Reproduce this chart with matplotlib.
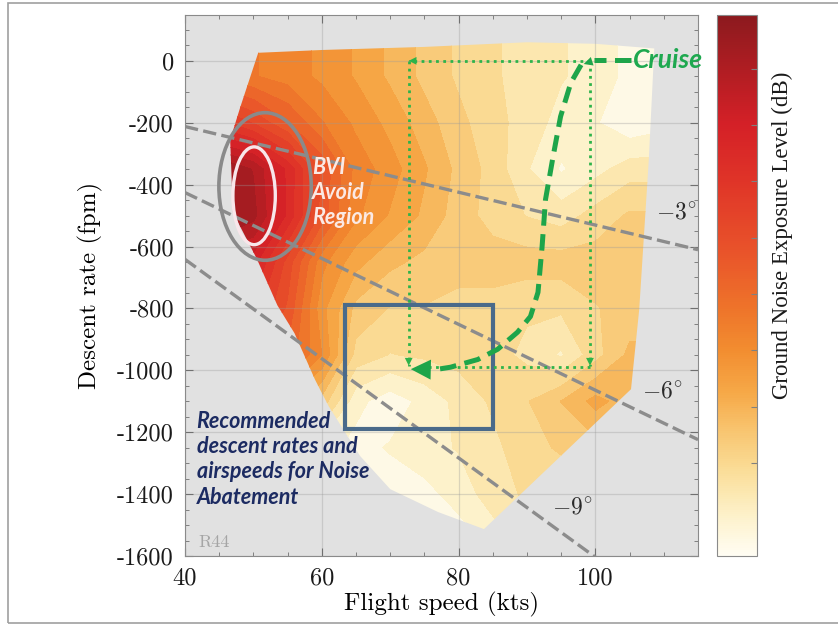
import numpy as np
import matplotlib.pyplot as plt
from matplotlib.colors import LinearSegmentedColormap, Normalize
from matplotlib.cm import ScalarMappable
from matplotlib.patches import Polygon, Ellipse, Rectangle

plt.rcParams['font.family'] = 'cmr10'
plt.rcParams['mathtext.fontset'] = 'cm'
plt.rcParams['axes.unicode_minus'] = False

# noise map (dB), rows = descent rate, cols = flight speed
speeds = [46, 50, 55, 60, 65, 70, 75, 80, 85, 90, 95, 100, 105, 110]
rates = [100, -50, -200, -350, -500, -650, -800, -950, -1100, -1250, -1400, -1550]
noise_db = [
    [85.5, 85.0, 84.5, 83.8, 83.0, 82.0, 81.0, 80.2, 79.6, 79.0, 78.6, 78.2, 77.3, 77.3],
    [85.5, 85.0, 84.5, 83.8, 83.0, 82.0, 81.0, 80.2, 79.6, 79.0, 78.6, 78.2, 77.3, 77.3],
    [89.5, 88.5, 86.8, 85.0, 83.8, 82.8, 81.7, 80.6, 79.8, 79.0, 78.2, 77.7, 76.9, 77.3],
    [95.0, 94.0, 91.1, 87.5, 84.6, 83.5, 82.3, 81.0, 80.0, 78.6, 77.5, 78.2, 79.0, 79.0],
    [95.3, 94.4, 91.1, 87.3, 84.2, 83.0, 82.0, 80.8, 80.0, 79.4, 79.0, 79.8, 80.5, 80.5],
    [92.0, 91.7, 88.2, 84.3, 82.5, 81.5, 81.0, 80.8, 80.8, 80.8, 80.8, 80.8, 80.8, 80.8],
    [90.5, 90.0, 87.5, 83.4, 81.0, 80.3, 80.3, 80.0, 80.0, 79.6, 79.6, 80.3, 80.7, 80.7],
    [87.0, 87.0, 86.5, 84.0, 80.0, 79.4, 79.6, 79.8, 79.8, 79.2, 78.4, 80.0, 81.5, 81.5],
    [83.0, 83.0, 83.0, 80.9, 77.9, 77.1, 77.9, 78.8, 79.6, 80.3, 81.3, 82.5, 81.7, 81.7],
    [78.0, 78.0, 78.0, 78.0, 77.3, 77.7, 78.2, 78.6, 79.2, 80.0, 80.5, 80.9, 80.9, 80.9],
    [77.0, 77.0, 77.0, 77.0, 77.0, 77.1, 77.3, 78.0, 79.0, 79.6, 79.6, 79.6, 79.6, 79.6],
    [77.0, 77.0, 77.0, 77.0, 77.0, 77.0, 77.0, 77.1, 78.0, 79.0, 79.0, 79.0, 79.0, 79.0],
]
db_min, db_max = 76.7, 95.9
cbar_ticks = [80, 82, 84, 86, 88, 90, 92, 94]

# outline of the tested flight envelope
region_speed = [50.7, 60, 75, 90, 100, 108.6, 107.8, 106.4, 105.2, 83.7, 77.0, 70.0,
                65.6, 61.0, 59.0, 56.0, 53.5, 50.5, 47.0, 46.6, 48.1]
region_rate = [26, 35, 45, 60, 55, 40, -319, -803, -1061, -1513, -1458, -1384,
               -1277, -1116, -1030, -880, -790, -640, -490, -255, -148]

glide_angles = [3, 6, 9]
glide_label_pos = [(111.8, -490), (109.7, -1068), (96.6, -1442)]

# cruise -> descent manoeuvre
cruise_speed = [97.9, 96.4, 94.9, 93.8, 92.7, 92.2, 91.6, 90.5, 88.6, 85.7, 82.8, 78.8, 76.5]
cruise_rate = [-13, -71, -180, -310, -448, -600, -748, -826, -877, -932, -965, -990, -998]
box_speed = [72.7, 99.2]
box_rate = [0, -990]

rec_box = (63.4, 85.0, -1190, -790)
bvi_outer = (51.7, -406, 13.5, 477)
bvi_inner = (50.1, -436, 6.2, 316)

cmap = LinearSegmentedColormap.from_list('noise', [
    (0.00, '#fffdf3'), (0.08, '#fdf0c6'), (0.16, '#fadc96'), (0.23, '#f8c570'),
    (0.30, '#f6a948'), (0.38, '#f28d30'), (0.46, '#ee732a'), (0.56, '#e9542a'),
    (0.70, '#df3328'), (0.80, '#d42027'), (1.00, '#8c1a1e')])
norm = Normalize(db_min, db_max)

fig = plt.figure(figsize=(8.38, 6.26), dpi=100)
ax = fig.add_axes([0.2208, 0.1118, 0.6122, 0.8642])
cax = fig.add_axes([0.8556, 0.1118, 0.0477, 0.8642])

ax.set_facecolor('#e1e1e1')
S, R = np.meshgrid(speeds, rates)
levels = np.linspace(db_min, db_max, 22)
cs = ax.contourf(S, R, np.array(noise_db), levels=levels, cmap=cmap, norm=norm, extend='both')
region = Polygon(np.column_stack([region_speed, region_rate]), closed=True,
                 transform=ax.transData, facecolor='none', edgecolor='none')
ax.add_patch(region)
cs.set_clip_path(region)

ax.set_xlim(40, 115)
ax.set_ylim(-1600, 148)
ax.set_xticks([40, 60, 80, 100], ['40', '60', '80', '100'])
yt = list(range(0, -1601, -200))
ax.set_yticks(yt, [str(v) for v in yt])
ax.set_xticks(np.arange(40, 116, 5), minor=True)
ax.set_yticks(np.arange(-1600, 149, 50), minor=True)
ax.tick_params(which='both', direction='in', top=True, right=True, colors='#707070',
               labelcolor='#1a1a1a', labelsize=17.5)
ax.tick_params(which='major', length=6, pad=8)
ax.tick_params(which='minor', length=3)
ax.grid(True, which='major', color='#9a9a9a', alpha=0.35, lw=0.9)
for sp in ax.spines.values():
    sp.set_color('#8a8a8a')
ax.set_xlabel('Flight speed (kts)', fontsize=18, labelpad=2)
ax.set_ylabel('Descent rate (fpm)', fontsize=18, labelpad=10)

# glide slopes
xs = np.array([40, 115])
for ang, (lx, ly) in zip(glide_angles, glide_label_pos):
    ax.plot(xs, -xs * 101.27 * np.tan(np.radians(ang)), color='#8c8c8c', lw=2.4,
            ls=(0, (4, 1.6)), zorder=3)
    ax.text(lx, ly, r'$-%d^{\circ}$' % ang, fontsize=17, color='#2a2a2a',
            ha='center', va='center', zorder=6)

# BVI region
ax.add_patch(Ellipse(bvi_outer[:2], bvi_outer[2], bvi_outer[3], fill=False,
                     ec='#8a8a8a', lw=2.6, zorder=4))
ax.add_patch(Ellipse(bvi_inner[:2], bvi_inner[2], bvi_inner[3], fill=False,
                     ec='#f8e6ea', lw=2.4, zorder=4))
ax.text(58.6, -426, 'BVI\nAvoid\nRegion', family='Lato', weight='bold', style='italic',
        fontsize=15.5, color='#fbe9e4', ha='left', va='center', linespacing=1.25, zorder=6)

# recommended box
x0, x1, y0, y1 = rec_box
ax.add_patch(Rectangle((x0, y0), x1 - x0, y1 - y0, fill=False, ec='#4a6a8a', lw=3, zorder=5))
ax.text(41.7, -1287, 'Recommended\ndescent rates and\nairspeeds for Noise\nAbatement',
        family='Lato', weight='bold', style='italic', fontsize=15.5, color='#1c2b62',
        ha='left', va='center', linespacing=1.25, zorder=6)
ax.text(41.9, -1555, 'R44', fontsize=13, color='#a5a5a5', ha='left', va='center', zorder=6)

# dotted manoeuvre box
green_dot = '#2db34a'
dot_ls = (0, (1, 1.6))
bl, br = box_speed
bt, bb = box_rate
segments = [((br, bt), (bl, bt)), ((bl, bt), (bl, bb + 5)),
            ((br, bt), (br, bb + 5)), ((br, bb), (bl + 1.5, bb))]
for (xa, ya), (xb, yb) in segments:
    ax.plot([xa, xb], [ya, yb], color=green_dot, lw=2, ls=dot_ls, zorder=5)
    dx, dy = (xb - xa), (yb - ya)
    L = np.hypot(dx / 75, dy / 1750)
    ax.annotate('', xy=(xb, yb), xytext=(xb - dx / 75 / L * 0.5, yb - dy / 1750 / L * 0.5 * 23.3),
                arrowprops=dict(arrowstyle='-|>', color=green_dot, lw=0, mutation_scale=14),
                zorder=5)

# dashed cruise descent path
green_dash = '#1ea54a'
ax.plot(cruise_speed, cruise_rate, color=green_dash, lw=3.6, ls=(0, (3.3, 1.7)),
        solid_capstyle='butt', zorder=6)
ax.annotate('', xy=(72.6, -996), xytext=(cruise_speed[-1], cruise_rate[-1]),
            arrowprops=dict(arrowstyle='-|>', color=green_dash, lw=0, mutation_scale=36),
            zorder=6)
ax.plot([105.2, 99.8], [2, 2], color=green_dash, lw=3.6, ls=(0, (3.3, 1.7)), zorder=6)
ax.annotate('', xy=(cruise_speed[0], cruise_rate[0]), xytext=(100, 2),
            arrowprops=dict(arrowstyle='-|>', color=green_dash, lw=0, mutation_scale=16),
            zorder=6)
ax.text(105.5, 3, 'Cruise', family='Lato', weight='bold', style='italic', fontsize=19,
        color='#1ea84f', ha='left', va='center', zorder=7, clip_on=False)

# colorbar
cb = fig.colorbar(ScalarMappable(norm=norm, cmap=cmap), cax=cax)
cb.set_ticks(cbar_ticks)
cb.ax.tick_params(direction='in', length=4, colors='#808080', labelright=False)
cb.outline.set_edgecolor('#8a8a8a')
fig.text(782 / 838, 1 - 235 / 626, 'Ground Noise Exposure Level (dB)', family='Liberation Serif',
         fontsize=16.5, rotation=90, ha='center', va='center', color='#1a1a1a')

fig.add_artist(Rectangle((8 / 838, 3 / 626), 1.0, 620 / 626, transform=fig.transFigure,
                         fill=False, ec='#a0a0a0', lw=1.2))

fig.savefig('out.png', dpi=100)
